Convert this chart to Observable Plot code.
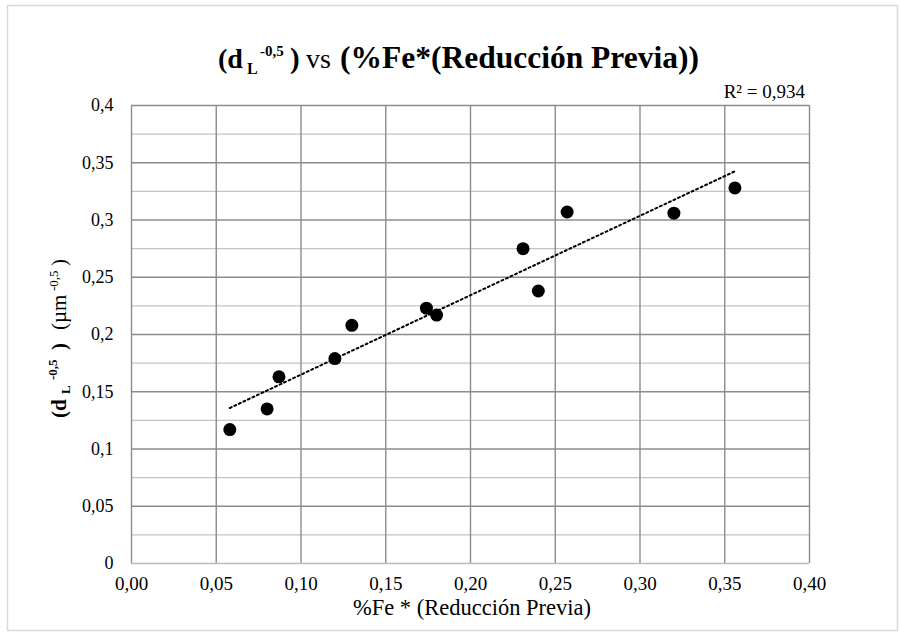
<!DOCTYPE html>
<html>
<head>
<meta charset="utf-8">
<script src="https://cdn.jsdelivr.net/npm/d3@7"></script>
<script src="https://cdn.jsdelivr.net/npm/@observablehq/plot@0.6"></script>
<style>
html, body { margin: 0; padding: 0; background: #fff; }
#chart { width: 899px; height: 632px; }
#chart svg, #chart svg text, #chart svg tspan {
  font-family: "Liberation Serif", "DejaVu Serif", "Times New Roman", serif !important;
}
</style>
</head>
<body>
<div id="chart"></div>
<script>
// Data
const xValues = [0.058, 0.080, 0.087, 0.120, 0.130, 0.174, 0.180, 0.231, 0.240, 0.257, 0.320, 0.356];
const yValues = [0.117, 0.135, 0.163, 0.179, 0.208, 0.223, 0.217, 0.275, 0.238, 0.307, 0.306, 0.328];
const xTicks = [0, 0.05, 0.10, 0.15, 0.20, 0.25, 0.30, 0.35, 0.40];
const yTicks = [0, 0.05, 0.10, 0.15, 0.20, 0.25, 0.30, 0.35, 0.40];
const yMinorTicks = [0.025, 0.075, 0.125, 0.175, 0.225, 0.275, 0.325, 0.375];
const titleText = "(%Fe*(Reducción Previa))";
const xLabel = "%Fe * (Reducción Previa)";
const r2Text = "R² = 0,934";

const data = xValues.map((x, i) => ({x, y: yValues[i]}));
const fmtX = v => v.toFixed(2).replace(".", ",");
const fmtY = v => String(+v.toFixed(2)).replace(".", ",");
const ff = "Liberation Serif, DejaVu Serif, Times New Roman, serif";

const plot = Plot.plot({
  width: 899,
  height: 632,
  marginLeft: 131,
  marginRight: 90,
  marginTop: 105,
  marginBottom: 69,
  x: {domain: [0, 0.4]},
  y: {domain: [0, 0.4]},
  style: {fontFamily: ff, background: "#fff", color: "#000"},
  marks: [
    Plot.ruleY(yMinorTicks, {stroke: "#c4c4c4", strokeWidth: 1.4}),
    Plot.ruleY(yTicks.filter(v => v > 0), {stroke: "#8c8c8c", strokeWidth: 1.4}),
    Plot.ruleX(xTicks, {stroke: "#8c8c8c", strokeWidth: 1.4}),
    Plot.ruleY([0], {stroke: "#bdbdbd", strokeWidth: 1.6}),
    Plot.axisX(xTicks, {tickSize: 0, tickPadding: 13, tickFormat: fmtX, fontSize: 19, label: null}),
    Plot.axisY(yTicks, {tickSize: 0, tickPadding: 18, tickFormat: fmtY, fontSize: 18, label: null}),
    Plot.linearRegressionY(data, {x: "x", y: "y", ci: 0, stroke: "#000", strokeWidth: 2, strokeDasharray: "2,3"}),
    Plot.dot(data, {x: "x", y: "y", r: 6.5, fill: "#000", stroke: "none"})
  ]
});

const svg = d3.select(plot);
svg.append("rect")
  .attr("x", 7.5).attr("y", 5.5).attr("width", 890).attr("height", 625)
  .attr("fill", "none").attr("stroke", "#d9d9d9").attr("stroke-width", 1.5);

// Title
const t = svg.append("text").attr("y", 68).attr("text-anchor", "start")
  .attr("font-family", ff).attr("fill", "#000").style("white-space", "pre");
t.append("tspan").attr("x", 218).attr("font-weight", "bold").attr("font-size", 28).text("(d");
t.append("tspan").attr("x", 247).attr("font-weight", "bold").attr("font-size", 16).attr("dy", 6).text("L");
t.append("tspan").attr("x", 260).attr("font-weight", "bold").attr("font-size", 15).attr("dy", -18).text("-0,5");
t.append("tspan").attr("x", 290).attr("font-weight", "bold").attr("font-size", 29).attr("dy", 12).text(")");
t.append("tspan").attr("x", 306).attr("font-size", 28).text("vs");
t.append("tspan").attr("x", 340).attr("font-weight", "bold").attr("font-size", 31.5).text(titleText);

// R²
svg.append("text").attr("x", 805).attr("y", 98).attr("text-anchor", "end")
  .attr("font-family", ff).attr("font-size", 19).attr("fill", "#000").text(r2Text);

// X label
svg.append("text").attr("x", 472).attr("y", 615).attr("text-anchor", "middle")
  .attr("font-family", ff).attr("font-size", 22.5).attr("fill", "#000")
  .style("white-space", "pre").text(xLabel);

// Y label (rotated)
const yl = svg.append("text").attr("transform", "translate(66,418) rotate(-90)")
  .attr("text-anchor", "start")
  .attr("font-family", ff).attr("fill", "#000").style("white-space", "pre");
yl.append("tspan").attr("x", 0).attr("font-weight", "bold").attr("font-size", 21).text("(d");
yl.append("tspan").attr("x", 24).attr("font-weight", "bold").attr("font-size", 13).attr("dy", 4).text("L");
yl.append("tspan").attr("x", 38).attr("font-weight", "bold").attr("font-size", 13).attr("dy", -13).text("-0,5");
yl.append("tspan").attr("x", 68).attr("font-weight", "bold").attr("font-size", 21).attr("dy", 9).text(")");
yl.append("tspan").attr("x", 88).attr("font-size", 21).text("(µm");
yl.append("tspan").attr("x", 127).attr("font-size", 13).attr("dy", -8).text("-0,5");
yl.append("tspan").attr("x", 152).attr("font-size", 21).attr("dy", 8).text(")");

document.getElementById("chart").appendChild(plot);
</script>
</body>
</html>
